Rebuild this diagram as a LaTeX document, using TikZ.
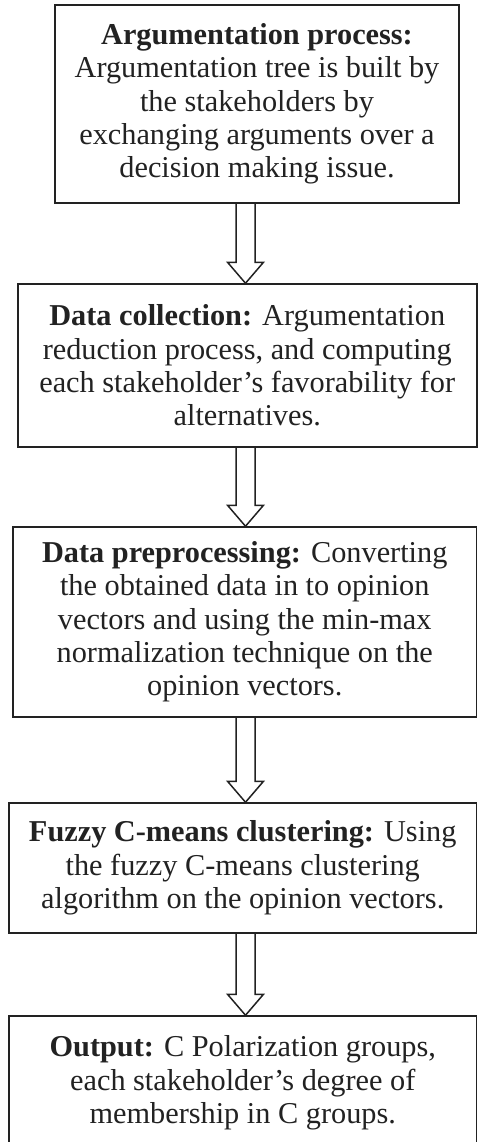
\documentclass[tikz,border=0pt]{standalone}
\usepackage{fontspec}
\setmainfont{Liberation Serif}
\usepackage{xcolor}
\usepackage{tikz}
\usetikzlibrary{calc}
\usetikzlibrary{positioning}

\definecolor{inkgray}{RGB}{34,34,34}
\tikzset{
  stagebox/.style={draw=inkgray, line width=1.5, fill=white, align=center, text=inkgray,
    inner sep=0pt, font=\fontsize{30.3}{33.3}\selectfont},
  blockarrow/.style={draw=inkgray, line width=1.5, line join=miter}
}
% hollow block arrow from the bottom of #1 to the top of #2
\newcommand{\flowarrow}[2]{%
  \draw [blockarrow] ($(#1.south -| ax)+(-9.5,0)$) -- ($(#2.north -| ax)+(-9.5,-21)$) -- ($(#2.north -| ax)+(-18,-21)$) -- (#2.north -| ax) -- ($(#2.north -| ax)+(18,-21)$) -- ($(#2.north -| ax)+(9.5,-21)$) -- ($(#1.south -| ax)+(9.5,0)$) ;}

\begin{document}
\begin{tikzpicture}[x=1pt,y=-1pt]
\useasboundingbox (0,0) rectangle (478,1142); %page of the reference size

%axis of the arrows
\coordinate (ax) at (245.5,0);

% Text Node
\node [stagebox, minimum width=404, minimum height=198] (argue) at (257,104)
  {\textbf{Argumentation process:}\\ Argumentation tree is built by\\ the stakeholders by\\ exchanging arguments over a\\ decision making issue.};
% Text Node
\node [stagebox, minimum width=459, minimum height=163] (collect) at (247.25,365.5)
  {\textbf{Data collection:} Argumentation\\ reduction process, and computing\\ each stakeholder's favorability for\\ alternatives.};
% Text Node
\node [stagebox, minimum width=463.5, minimum height=190] (prep) at (244.75,622)
  {\textbf{Data preprocessing:} Converting\\ the obtained data in to opinion\\ vectors and using the min-max\\ normalization technique on the\\ opinion vectors.};
% Text Node
\node [stagebox, minimum width=467.5, minimum height=130] (fcm) at (242.75,868)
  {\textbf{Fuzzy C-means clustering:} Using\\ the fuzzy C-means clustering\\ algorithm on the opinion vectors.};
% Text Node
\node [stagebox, minimum width=467.5, minimum height=134] (output) at (242.75,1083)
  {\textbf{Output:} C Polarization groups,\\ each stakeholder's degree of\\ membership in C groups.};

%Block Arrows
\flowarrow{argue}{collect}
\flowarrow{collect}{prep}
\flowarrow{prep}{fcm}
\flowarrow{fcm}{output}

\end{tikzpicture}
\end{document}
